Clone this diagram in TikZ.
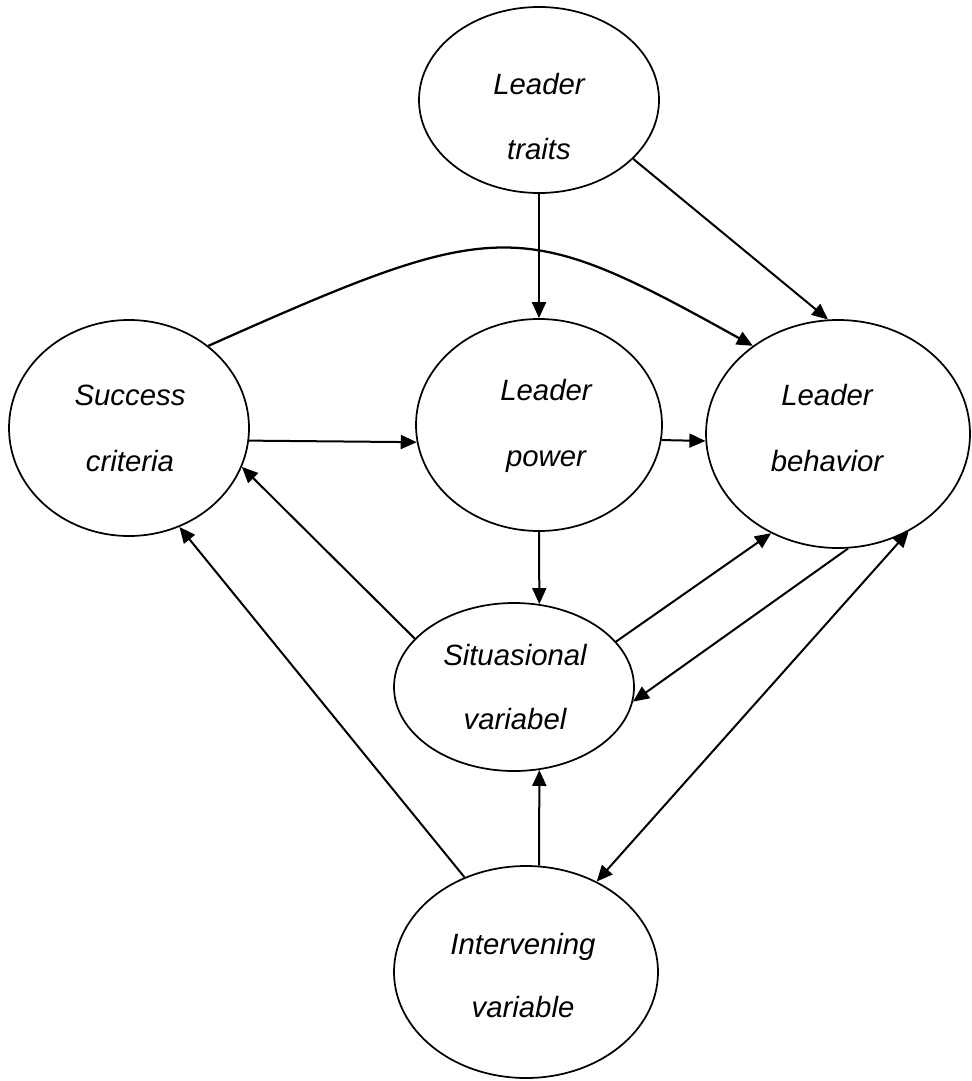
\documentclass[tikz,border=0pt]{standalone}
\usepackage{fontspec}
\setmainfont{Liberation Sans}
\usetikzlibrary{shapes.geometric,arrows.meta}
\begin{document}
\begin{tikzpicture}[x=0.75pt,y=-0.75pt,
  ell/.style 2 args={ellipse,draw,line width=1.3pt,minimum width=#1*1.5pt,minimum height=#2*1.5pt,inner sep=0pt},
  lbl/.style={anchor=base,font=\fontsize{22}{26}\selectfont\itshape,inner sep=0pt},
  conn/.style={line width=1.5pt,-{Triangle[length=12pt,width=10.5pt]}},
  conn2/.style={line width=1.5pt,{Triangle[length=12pt,width=10.5pt]}-{Triangle[length=12pt,width=10.5pt]}}]
\useasboundingbox (0,0) rectangle (971,1081);

% ellipses
\node[ell={120}{93}] (T) at (539,100) {};
\node[ell={120}{108}] (S) at (129,428) {};
\node[ell={123}{106}] (P) at (539,425) {};
\node[ell={132}{114}] (B) at (838,434) {};
\node[ell={120}{84}] (V) at (514,687) {};
\node[ell={132}{106}] (I) at (526,972) {};

% labels
\node[lbl] (T1) at (539,94) {Leader};
\node[lbl] (T2) at (539,159) {traits};
\node[lbl] (S1) at (130,405) {Success};
\node[lbl] (S2) at (130,471) {criteria};
\node[lbl] (P1) at (546,400) {Leader};
\node[lbl] (P2) at (546,466) {power};
\node[lbl] (B1) at (827,405) {Leader};
\node[lbl] (B2) at (827,471) {behavior};
\node[lbl] (V1) at (515,665) {Situasional};
\node[lbl] (V2) at (515,729) {variabel};
\node[lbl] (I1) at (523,954) {Intervening};
\node[lbl] (I2) at (523,1017) {variable};

% connectors
\draw[conn] (T.south) -- (P.north);
\draw[conn] (T.-32) -- (B.95.5);
\draw[conn,line width=1.7pt] (S.46.8) .. controls (500,216) and (519,216) .. (B.134.4);
\draw[conn] (S.-6.2) -- (P.-172.5);
\draw[conn] (P.-7.5) -- (B.-177);
\draw[conn] (P.south) -- (V.73);
\draw[conn] (V.154.4) -- (S.-19.65);
\draw[conn] (I.123.7) -- (S.-63.7);
\draw[conn] (V.24.5) -- (B.-124.5);
\draw[conn] (B.-85) -- (V.-7.5);
\draw[conn2] (I.52.2) -- (B.-54.1);
\draw[conn] (I.83) -- (V.-73);
\end{tikzpicture}
\end{document}
